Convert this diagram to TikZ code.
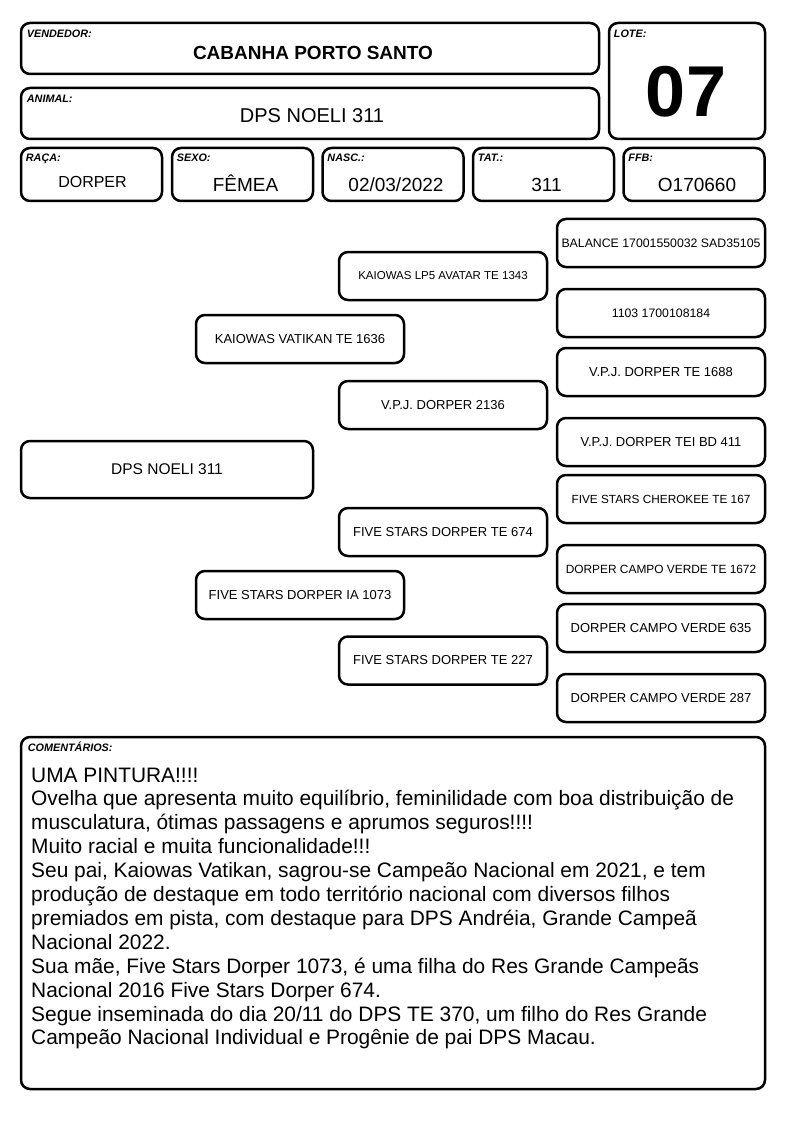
\documentclass[tikz,border=0pt]{standalone}
\usepackage{fontspec}
\setmainfont{Liberation Sans}
\usetikzlibrary{calc,positioning}

\begin{document}
\begin{tikzpicture}[x=1pt,y=-1pt,
    box/.style={draw,line width=2.5pt,rounded corners=9pt,inner sep=0pt},
    lbl/.style={font=\fontsize{10.8}{10.8}\selectfont\bfseries\itshape,anchor=base west,inner sep=0pt},
    val/.style={font=\fontsize{19}{19}\selectfont,anchor=base,inner sep=0pt},
    ped/.style={box,minimum width=208pt,minimum height=48pt}]
  \useasboundingbox (0,0) rectangle (794,1123);

  % header boxes
  \node[box,minimum width=578pt,minimum height=51pt] (vend) at (310,48.5) {};
  \node[lbl] (vendL) at ($(vend.north west)+(7,15.5)$) {VENDEDOR:};
  \node[val,font=\fontsize{19}{19}\selectfont\bfseries] (vendV) at (313,60) {CABANHA PORTO SANTO};

  \node[box,minimum width=578pt,minimum height=51pt] (anim) at (310,113.5) {};
  \node[lbl] (animL) at ($(anim.north west)+(7,15.5)$) {ANIMAL:};
  \node[val,font=\fontsize{20}{20}\selectfont] (animV) at (312,123) {DPS NOELI 311};

  \node[box,minimum width=156pt,minimum height=116pt] (lote) at (687,81) {};
  \node[lbl] (loteL) at ($(lote.north west)+(6,15.5)$) {LOTE:};
  \node[inner sep=0pt,font=\fontsize{72}{72}\selectfont\bfseries] (loteV) at (686,91.5) {07};

  % data row
  \foreach \n/\x/\l/\v in {sexo/242.5/SEXO:/FÊMEA,nasc/393/NASC.:/{02/03/2022},tat/543.5/TAT.:/311,ffb/694/FFB:/O170660} {
    \node[box,minimum width=141pt,minimum height=53pt] (\n) at (\x,174.5) {};
    \node[lbl] (\n L) at ($(\n.north west)+(6,14.5)$) {\l};
    \node[val] (\n V) at ($(\n.north)+(3,45)$) {\v};
  }
  \node[box,minimum width=141pt,minimum height=53pt] (raca) at (91.5,174.5) {};
  \node[lbl] (racaL) at ($(raca.north west)+(6,14.5)$) {RAÇA:};
  \node[val,font=\fontsize{16}{16}\selectfont] (racaV) at ($(raca.north)+(1,40.5)$) {DORPER};

  % pedigree
  \node[box,minimum width=292pt,minimum height=57pt,font=\fontsize{15.5}{15.5}\selectfont] (noeli) at (167,469.5) {DPS NOELI 311};
  \foreach \n/\x/\y/\s/\t in {
      vatikan/300/339/13/KAIOWAS VATIKAN TE 1636,
      ia1073/300/595/13/FIVE STARS DORPER IA 1073,
      avatar/443/276/11.5/KAIOWAS LP5 AVATAR TE 1343,
      vpj2136/443/405/13/V.P.J. DORPER 2136,
      te674/443/532/13/FIVE STARS DORPER TE 674,
      te227/443/660.5/13/FIVE STARS DORPER TE 227,
      balance/661/243/12.3/BALANCE 17001550032 SAD35105,
      n1103/661/313/12.3/1103 1700108184,
      te1688/661/372/13/V.P.J. DORPER TE 1688,
      tei411/661/442/13/V.P.J. DORPER TEI BD 411,
      cherokee/661/499/11.8/FIVE STARS CHEROKEE TE 167,
      te1672/661/569/11.9/DORPER CAMPO VERDE TE 1672,
      cv635/661/628/13/DORPER CAMPO VERDE 635,
      cv287/661/698/13/DORPER CAMPO VERDE 287} {
    \node[ped,font=\fontsize{\s}{\s}\selectfont] (\n) at (\x,\y) {\t};
  }

  % comments
  \node[box,minimum width=744pt,minimum height=352pt] (coment) at (393,913) {};
  \node[lbl,font=\fontsize{10.8}{10.8}\selectfont\bfseries\itshape] (comentL) at ($(coment.north west)+(8,15.5)$) {COMENTÁRIOS:};
  \node[anchor=north west,inner sep=0pt,align=left,font=\fontsize{20.9}{23.9}\selectfont] (comentV) at (31,767.5) {%
    UMA PINTURA!!!!\\
    Ovelha que apresenta muito equilíbrio, feminilidade com boa distribuição de\\
    musculatura, ótimas passagens e aprumos seguros!!!!\\
    Muito racial e muita funcionalidade!!!\\
    Seu pai, Kaiowas Vatikan, sagrou-se Campeão Nacional em 2021, e tem\\
    produção de destaque em todo território nacional com diversos filhos\\
    premiados em pista, com destaque para DPS Andréia, Grande Campeã\\
    Nacional 2022.\\
    Sua mãe, Five Stars Dorper 1073, é uma filha do Res Grande Campeãs\\
    Nacional 2016 Five Stars Dorper 674.\\
    Segue inseminada do dia 20/11 do DPS TE 370, um filho do Res Grande\\
    Campeão Nacional Individual e Progênie de pai DPS Macau.};
\end{tikzpicture}
\end{document}
